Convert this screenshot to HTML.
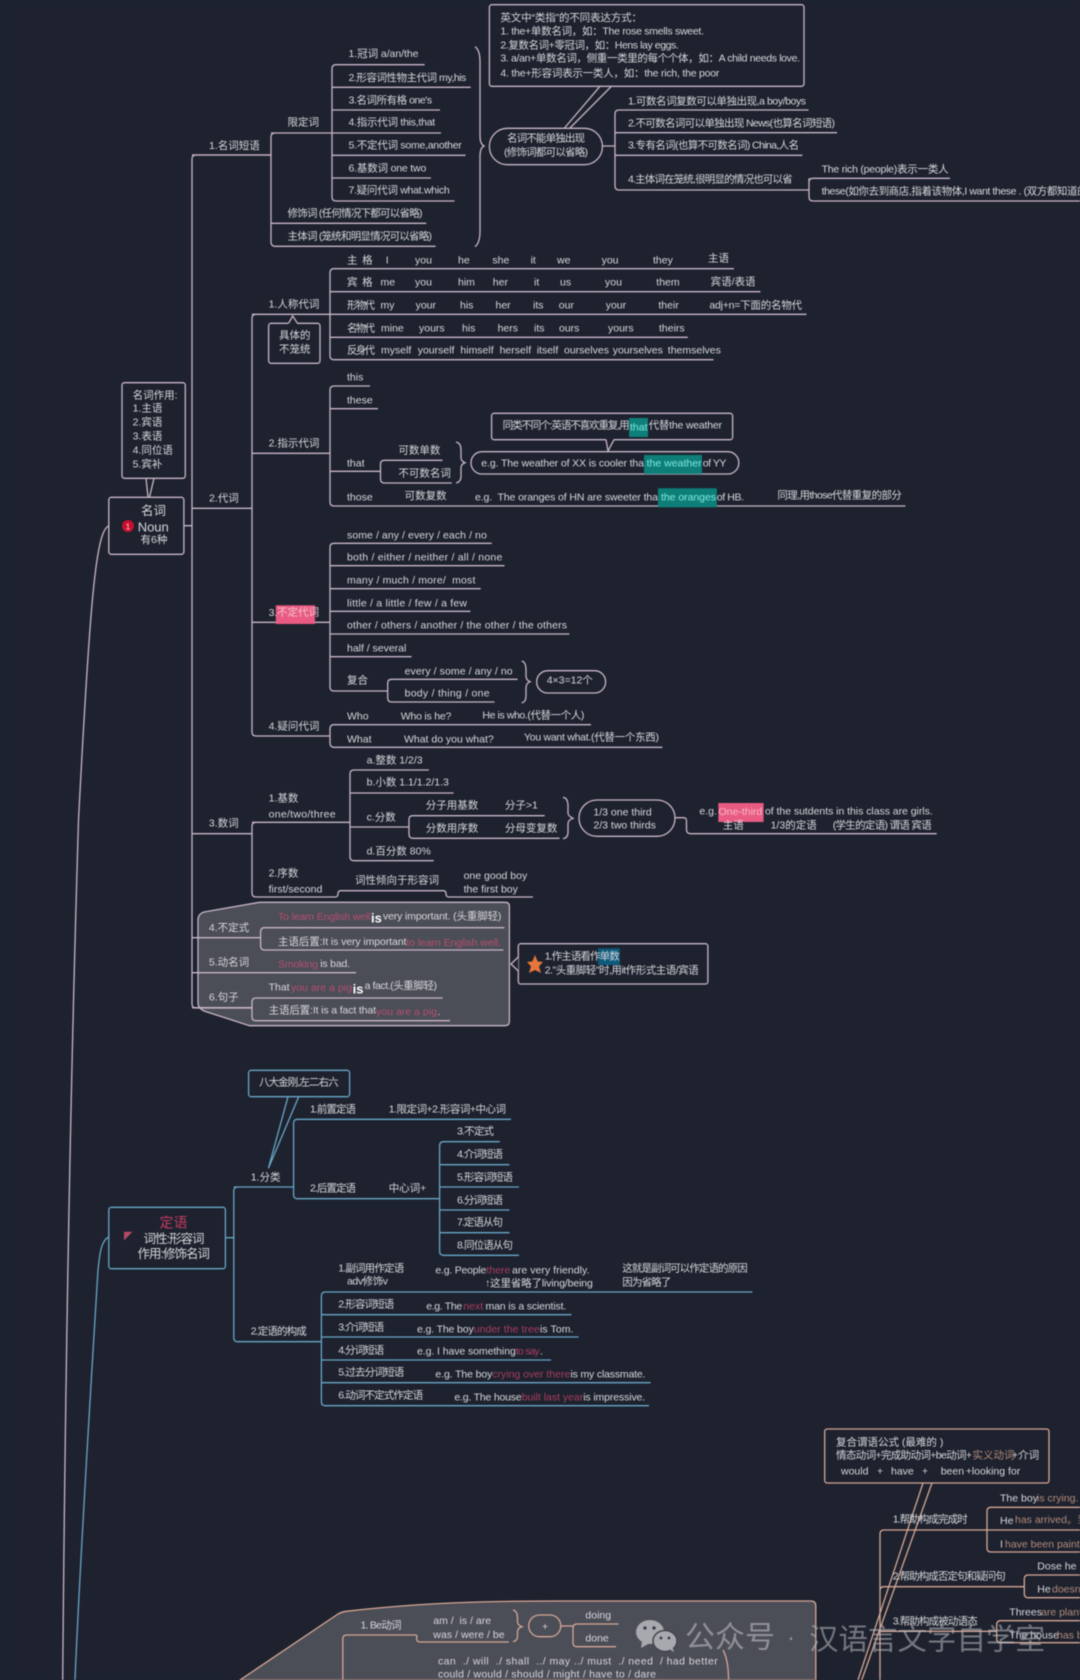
<!DOCTYPE html>
<html lang="zh"><head><meta charset="utf-8"><title>英语语法思维导图</title>
<style>
html,body{margin:0;padding:0;background:#1d222e;width:1080px;height:1680px;overflow:hidden}
svg{display:block;filter:blur(.4px)}
text{font-family:"Liberation Sans","Noto Sans CJK SC",sans-serif;font-size:10.5px;fill:#d8d8dc;dominant-baseline:central;white-space:pre;transform:translateY(1px)}
.l{fill:none;stroke:#c9b5c8;stroke-width:1.3}
.b{fill:none;stroke:#6aa5c8;stroke-width:1.3}
.s{fill:none;stroke:#d6a795;stroke-width:1.3}
.box{fill:#1d222e}
.r{fill:#b5506f}
.r2{fill:#a83d60}
.o{fill:#b48a7c}
.c{fill:#7fe8e0}
.w{font-weight:bold;font-size:13px;fill:#fff}
</style></head><body>
<svg width="1080" height="1680" viewBox="0 0 1080 1680" xmlns="http://www.w3.org/2000/svg">
<rect width="1080" height="1680" fill="#1d222e"/>

<!-- long curves -->
<path class="l" d="M108.8 526C96 530 90 600 78.5 820C70 1100 65 1400 62.7 1680"/>
<path class="b" d="M108.8 1237C102 1240 100 1250 98 1270C90 1400 80 1560 75 1680"/>

<!-- gray panels -->
<path d="M259.6 902.3H505Q509.4 902.3 509.4 906V1021Q509.4 1025.7 505 1025.7H249.6L204 1011Q198 1008 198 1003V920Q198 914 204 912Z" fill="#4b4d57" stroke="#c9b5c8" stroke-width="1.3"/>
<path d="M240 1680L338 1614Q342 1611.7 346 1611.3C420 1603 480 1601 560 1601H811Q815.8 1601 815.8 1606V1680Z" fill="#4b4d57" stroke="#d6a795" stroke-width="1.3"/>

<!-- PINK connectors -->
<path class="l" d="M196 155Q192 155 192 159V1004Q192 1008 196 1008H252M192 155H271M184 525.7H192"/>
<path class="l" d="M275 133Q271 133 271 137V242Q271 246.3 275 246.3H435.6M271 155H192M271 133H441M271 223.3H426.3"/>
<path class="l" d="M424.6 64.7H336Q332 64.7 332 69V197Q332 201 336 201H454.5M332 87.3H470.7M332 110H440M332 155.3H465.5M332 178H431"/>
<path class="l" d="M475 46.7Q480 50 480 62V136Q480 144 484 146Q480 148 480 156V231Q480 243 475 246.7"/>
<path class="l" d="M602.4 146H615M808.6 110H619Q615 110 615 114V186Q615 190 619 190H809M615 132.7H837M615 155.3H802.4"/>
<path class="l" d="M950 178.3H813Q809 178.3 809 182V197Q809 201 813 201H1080M809 178.3V190"/>
<!-- 代词 -->
<path class="l" d="M192 508.3H252M256 314.3Q252 314.3 252 318V732Q252 736 256 736H330M252 314.3H330M252 453.3H330M252 622.3H330"/>
<path class="l" d="M733.9 268.7H334Q330 268.7 330 273V355.7Q330 359.7 334 359.7H713.5M330 291.7H760.4M330 314.3H806.5M330 337.3H687.8"/>
<path class="l" d="M370 386H334Q330 386 330 390V502Q330 506 334 506H905.5M330 408.7H378M330 471.3H380.5"/>
<path class="l" d="M442.5 460.3H384.5Q380.5 460.3 380.5 464V479Q380.5 483 384.5 483H451.8"/>
<path class="l" d="M456 442Q461 443 461 450V458Q461 461 465 462.7Q461 464 461 468V476Q461 482 456 483"/>
<path class="l" d="M491.7 543.3H334Q330 543.3 330 547V687Q330 691 334 691H387.7M330 565.7H504.5M330 588.7H480.7M330 611.3H470.4M330 634H569.4M330 656.7H411.5"/>
<path class="l" d="M517.6 679.3H391.7Q387.7 679.3 387.7 683V698Q387.7 702 391.7 702H494.5"/>
<path class="l" d="M521.7 661Q526 662 526 670V676Q526 680 530 681.7Q526 683 526 688V696Q526 702 521.7 703"/>
<path class="l" d="M591 724.7H334Q330 724.7 330 729V743Q330 747.3 334 747.3H662.4"/>
<!-- 数词 -->
<path class="l" d="M192 833.7H252M256 822.3Q252 822.3 252 826V893Q252 897 256 897H335Q338 897 338 894V893.7Q338 890.7 341 890.7H443Q446 890.7 446 893.7V894Q446 897 449 897H533M252 822.3H350"/>
<path class="l" d="M428.8 770H354Q350 770 350 774V856.7Q350 860.7 354 860.7H433.7M350 793H453.6M350 827H409"/>
<path class="l" d="M544.7 815.7H413Q409 815.7 409 819V834.3Q409 838.3 413 838.3H559.6"/>
<path class="l" d="M563 797.3Q568 798 568 806V813Q568 816 573 818.3Q568 820 568 824V832Q568 838 563 838.7"/>
<path class="l" d="M675 817.7H683.5Q686.5 817.7 686.5 821V829.7Q686.5 833.7 691 833.7H936.7"/>
<!-- 不定式等 -->
<path class="l" d="M192 937.7H260.6M504.4 927.7H264.6Q260.6 927.7 260.6 932V946Q260.6 950 264.6 950H503.4"/>
<path class="l" d="M192 972.7H356M192 1007.7H252"/>
<path class="l" d="M442.7 998H256Q252 998 252 1002V1016.7Q252 1020.7 256 1020.7H450"/>

<!-- PINK boxes -->
<rect x="489.4" y="4.7" width="314.6" height="81.6" rx="2.5" class="l box"/>
<path class="l" d="M600 86.3L564.5 128M611.4 86.3L570 128"/>
<rect x="489.4" y="128.3" width="113" height="36.4" rx="18" class="l box"/>
<rect x="268.6" y="323.3" width="51.4" height="40" rx="2.5" class="l box"/>
<path class="box" d="M288 324L292.7 316L297.5 324Z" stroke="none"/>
<path class="l" d="M288.5 323.3L292.7 316L297.5 323.3"/>
<rect x="122" y="382.7" width="63.3" height="95.6" rx="2.5" class="l box"/>
<rect x="108.8" y="497.3" width="75.1" height="57" rx="2.5" class="l box"/>
<path class="l" d="M146 478.3L148 497M154 478.3L149.5 497"/>
<rect x="491.6" y="413.3" width="241" height="26.4" rx="2.5" class="l box"/>
<path class="box" d="M606 439L608 451L614 439Z" stroke="none"/>
<path class="l" d="M606 439.7L608 451L614 439.7"/>
<rect x="471" y="451.7" width="267.8" height="22.3" rx="11" class="l box"/>
<rect x="536.7" y="670.7" width="68.9" height="22.3" rx="11" class="l box"/>
<rect x="579" y="800" width="96" height="36.3" rx="18" class="l box"/>
<rect x="518.3" y="943.7" width="189.6" height="40.3" rx="2.5" class="l box"/>
<path class="l box" d="M518.3 957L511 964L518.3 971" style="stroke-linejoin:round"/>

<!-- highlights -->
<rect x="629" y="418" width="19" height="19" fill="#0d7f78"/>
<rect x="644" y="455" width="58" height="19" fill="#0d7f78"/>
<rect x="658" y="488.3" width="58.8" height="19" fill="#0d7f78"/>
<rect x="275.8" y="605.3" width="39.2" height="18.7" fill="#e95b82"/>
<rect x="718.3" y="803" width="45.3" height="19" fill="#e95b82"/>
<rect x="598" y="948.3" width="21.8" height="16.7" fill="#0d5a7c"/>

<!-- 名词 top -->
<text x="209" y="145">1.名词短语</text>
<text x="287.5" y="121.7">限定词</text>
<text x="348.5" y="53" textLength="70">1.冠词 a/an/the</text>
<text x="348.5" y="77" textLength="117.8">2.形容词性物主代词 my,his</text>
<text x="348.5" y="99.5" textLength="83.6">3.名词所有格 one's</text>
<text x="348.5" y="121.7" textLength="86.7">4.指示代词 this,that</text>
<text x="348.5" y="144.3" textLength="113.3">5.不定代词 some,another</text>
<text x="348.5" y="167.3" textLength="77.8">6.基数词 one two</text>
<text x="348.5" y="189.3" textLength="101.2">7.疑问代词 what.which</text>
<text x="287.5" y="212.7" textLength="135">修饰词 (任何情况下都可以省略)</text>
<text x="287.5" y="235.7" textLength="144.5">主体词 (笼统和明显情况可以省略)</text>

<text x="500.4" y="17" textLength="141.6">英文中“类指”的不同表达方式：</text>
<text x="500.4" y="30.7" textLength="203.6">1. the+单数名词，如：The rose smells sweet.</text>
<text x="500.4" y="44.7" textLength="178.4">2.复数名词+零冠词，如：Hens lay eggs.</text>
<text x="500.4" y="57.7" textLength="299.6">3. a/an+单数名词，侧重一类里的每个个体，如：A child needs love.</text>
<text x="500.4" y="72.3" textLength="219">4. the+形容词表示一类人，如：the rich, the poor</text>
<text x="507" y="137.7" textLength="78">名词不能单独出现</text>
<text x="504" y="151.7" textLength="84">(修饰词都可以省略)</text>
<text x="628" y="100.7" textLength="178">1.可数名词复数可以单独出现,a boy/boys</text>
<text x="628" y="122.7" textLength="207">2.不可数名词可以单独出现 News(也算名词短语)</text>
<text x="628" y="144.7" textLength="171">3.专有名词(也算不可数名词) China,人名</text>
<text x="628" y="178.7" textLength="164.6">4.主体词在笼统,很明显的情况也可以省</text>
<text x="821.6" y="168.7" textLength="127">The rich (people)表示一类人</text>
<text x="821.6" y="190.7" textLength="266">these(如你去到商店,指着该物体,I want these . (双方都知道的</text>

<!-- pronoun table -->
<text x="347" y="259.3" textLength="25.6">主 格</text><text x="385.7" y="259.3">I</text><text x="415" y="259.3">you</text><text x="458" y="259.3">he</text><text x="492.4" y="259.3">she</text><text x="530.6" y="259.3">it</text><text x="557" y="259.3">we</text><text x="601.6" y="259.3">you</text><text x="653" y="259.3">they</text><text x="708" y="257.7">主语</text>
<text x="347" y="281.7" textLength="25.6">宾 格</text><text x="380.5" y="281.7">me</text><text x="415" y="281.7">you</text><text x="458" y="281.7">him</text><text x="492.8" y="281.7">her</text><text x="534" y="281.7">it</text><text x="560" y="281.7">us</text><text x="605" y="281.7">you</text><text x="656.3" y="281.7">them</text><text x="710.6" y="281">宾语/表语</text>
<text x="347" y="304.7" textLength="28">形物代</text><text x="380.5" y="304.7">my</text><text x="415.6" y="304.7">your</text><text x="460" y="304.7">his</text><text x="495.5" y="304.7">her</text><text x="533" y="304.7">its</text><text x="558.8" y="304.7">our</text><text x="605.7" y="304.7">your</text><text x="658.4" y="304.7">their</text><text x="709.4" y="304.7" textLength="92.6">adj+n=下面的名物代</text>
<text x="347" y="327.3" textLength="28">名物代</text><text x="381" y="327.3">mine</text><text x="419" y="327.3">yours</text><text x="462" y="327.3">his</text><text x="497.6" y="327.3">hers</text><text x="534" y="327.3">its</text><text x="559" y="327.3">ours</text><text x="608" y="327.3">yours</text><text x="659" y="327.3">theirs</text>
<text x="347" y="349.3" textLength="28">反身代</text><text x="381" y="349.3">myself</text><text x="417.7" y="349.3">yourself</text><text x="460.4" y="349.3">himself</text><text x="499.6" y="349.3">herself</text><text x="536.7" y="349.3">itself</text><text x="564" y="349.3">ourselves</text><text x="612.7" y="349.3">yourselves</text><text x="667.8" y="349.3">themselves</text>

<text x="209" y="497.3">2.代词</text>
<text x="268.6" y="303.7">1.人称代词</text>
<text x="279" y="334.7">具体的</text>
<text x="279" y="348.7">不笼统</text>

<!-- left boxes -->
<text x="132.6" y="394.7">名词作用:</text>
<text x="132.6" y="407.7">1.主语</text>
<text x="132.6" y="421.3">2.宾语</text>
<text x="132.6" y="435.3">3.表语</text>
<text x="132.6" y="449.7">4.同位语</text>
<text x="132.6" y="463.7">5.宾补</text>
<text x="141" y="510" style="font-size:12.5px">名词</text>
<text x="137.7" y="526" style="font-size:13px">Noun</text>
<text x="140.5" y="539">有6种</text>
<circle cx="128" cy="526" r="6" fill="#c8102e"/>
<text x="125.7" y="526" style="font-size:8px;fill:#ffd8d8">1</text>

<!-- 指示代词 -->
<text x="268.6" y="442.7">2.指示代词</text>
<text x="347" y="376.3">this</text>
<text x="347" y="399.3">these</text>
<text x="347" y="462.3">that</text>
<text x="347" y="496.3">those</text>
<text x="398.4" y="449.7">可数单数</text>
<text x="398.4" y="472.7">不可数名词</text>
<text x="404.6" y="495">可数复数</text>
<text x="502.6" y="424.3" textLength="127">同类不同个:英语不喜欢重复,用</text>
<text x="630" y="426.7" class="c">that</text>
<text x="648.6" y="424.3" textLength="73.4">代替the weather</text>
<text x="481.3" y="462.3" textLength="162.7">e.g. The weather of XX is cooler tha</text>
<text x="646.6" y="462.3" class="c" textLength="55">the weather</text>
<text x="702.7" y="462.3" textLength="23.7">of YY</text>
<text x="475" y="496.3" textLength="183">e.g.  The oranges of HN are sweeter tha</text>
<text x="661" y="496.3" class="c" textLength="55">the oranges</text>
<text x="716.8" y="496.3" textLength="27.2">of HB.</text>
<text x="777.4" y="494.7" textLength="124.3">同理,用those代替重复的部分</text>

<!-- 不定代词 -->
<text x="268.6" y="612">3.</text>
<text x="277" y="611.7" style="fill:#f3c3cf">不定代词</text>
<text x="347" y="534.7" textLength="139.8">some / any / every / each / no</text>
<text x="347" y="556.7" textLength="155.3">both / either / neither / all / none</text>
<text x="347" y="579.7" textLength="128.4">many / much / more/  most</text>
<text x="347" y="602.3" textLength="120">little / a little / few / a few</text>
<text x="347" y="624.3" textLength="220">other / others / another / the other / the others</text>
<text x="347" y="647.3" textLength="59.3">half / several</text>
<text x="347" y="679.3">复合</text>
<text x="404.6" y="670.7" textLength="108">every / some / any / no</text>
<text x="404.6" y="692.7" textLength="85">body / thing / one</text>
<text x="546.7" y="679.3">4×3=12个</text>

<!-- 疑问代词 -->
<text x="268.6" y="725.7">4.疑问代词</text>
<text x="347" y="715.3">Who</text>
<text x="400.8" y="715.3" textLength="50.5">Who is he?</text>
<text x="482.4" y="714.3" textLength="102">He is who.(代替一个人)</text>
<text x="347" y="738.3">What</text>
<text x="404" y="738.3" textLength="89.7">What do you what?</text>
<text x="524" y="736.7" textLength="135">You want what.(代替一个东西)</text>

<!-- 数词 -->
<text x="208.9" y="822.7">3.数词</text>
<text x="268.6" y="797.7">1.基数</text>
<text x="268.6" y="813.7" textLength="67">one/two/three</text>
<text x="366.6" y="759.7">a.整数 1/2/3</text>
<text x="366.6" y="781.7">b.小数 1.1/1.2/1.3</text>
<text x="366.6" y="816.7">c.分数</text>
<text x="425.8" y="804.7">分子用基数</text>
<text x="504.9" y="804.7">分子&gt;1</text>
<text x="425.8" y="827.7">分数用序数</text>
<text x="504.9" y="827.7">分母变复数</text>
<text x="366.6" y="850.7">d.百分数 80%</text>
<text x="593.4" y="811.7">1/3 one third</text>
<text x="593.4" y="824.3">2/3 two thirds</text>
<text x="699.4" y="810.7">e.g.</text>
<text x="718.5" y="811" style="fill:#f6b8c8">One-third</text>
<text x="765" y="810.7" textLength="167.7">of the sutdents in this class are girls.</text>
<text x="722.8" y="824.3">主语</text>
<text x="770.6" y="824.3">1/3的定语</text>
<text x="832.7" y="824.3" textLength="99">(学生的定语) 谓语 宾语</text>
<text x="268.6" y="872.7">2.序数</text>
<text x="268.6" y="888.3">first/second</text>
<text x="355" y="879.7">词性倾向于形容词</text>
<text x="463.6" y="875">one good boy</text>
<text x="463.6" y="888.7">the first boy</text>

<!-- 不定式 panel -->
<text x="208.9" y="927">4.不定式</text>
<text x="278" y="916" class="r" textLength="92.5">To learn English well</text>
<text x="371" y="917" class="w">is</text>
<text x="383" y="915.7" textLength="118.4">very important. (头重脚轻)</text>
<text x="278" y="941" textLength="128.4">主语后置:It is very important</text>
<text x="406.4" y="942" class="r" textLength="94.6">to learn English well.</text>
<text x="208.9" y="961.7">5.动名词</text>
<text x="278" y="963.3" class="r" textLength="40">Smoking</text>
<text x="320.3" y="963" textLength="29.7">is bad.</text>
<text x="208.9" y="996.7">6.句子</text>
<text x="268.6" y="986.7">That</text>
<text x="291" y="987" class="r" textLength="61">you are a pig</text>
<text x="352.6" y="988" class="w">is</text>
<text x="364.6" y="985" textLength="72.4">a fact.(头重脚轻)</text>
<text x="268.6" y="1009.5" textLength="107.4">主语后置:It is a fact that</text>
<text x="376" y="1011" class="r" textLength="61">you are a pig</text>
<text x="437.5" y="1011">.</text>
<polygon points="535,955 537.6,961.4 543,962 539,966.4 541,973 535,970 529,973 531,966.4 527,962 532.4,961.4" fill="#e8763c"/>
<text x="544.7" y="955.7" textLength="75">1.作主语看作单数</text>
<text x="544.7" y="969.7" textLength="154">2."头重脚轻"时,用it作形式主语/宾语</text>

<!-- BLUE: 定语 -->
<path class="b" d="M225.4 1237.7H233.8M237.8 1187Q233.8 1187 233.8 1191V1337.7Q233.8 1341.7 237.8 1341.7H321.4M233.8 1187H293.6"/>
<path class="b" d="M511 1119.3H297.6Q293.6 1119.3 293.6 1123V1194.7Q293.6 1198.7 297.6 1198.7H439.6"/>
<path class="b" d="M499.8 1141.7H443.6Q439.6 1141.7 439.6 1146V1251.3Q439.6 1255.3 443.6 1255.3H519M439.6 1164.7H509.5M439.6 1187H519M439.6 1210H509.5M439.6 1232.7H509.5"/>
<path class="b" d="M752.4 1292H325.4Q321.4 1292 321.4 1296V1401.7Q321.4 1405.7 325.4 1405.7H649M321.4 1314.7H571.4M321.4 1337H578.5M321.4 1360H551M321.4 1382.7H650.5"/>
<path class="b" d="M288 1096.7L268.4 1168.3L298.7 1096.7"/>
<rect x="248.6" y="1070.3" width="101" height="26.4" rx="2.5" class="b box"/>
<rect x="108.8" y="1207.3" width="116.6" height="61.4" rx="2.5" class="b box"/>
<text x="259" y="1081.7" textLength="79.6">八大金刚,左二右六</text>
<text x="159.5" y="1221.3" style="font-size:14px;fill:#c33b62">定语</text>
<polygon points="124,1231.7 132.5,1231.7 124,1240.5" fill="#b24a66"/>
<text x="143.5" y="1238" style="font-size:12.5px" textLength="61">词性:形容词</text>
<text x="137.5" y="1253" style="font-size:12.5px" textLength="72.5">作用:修饰名词</text>
<text x="250.7" y="1176.7">1.分类</text>
<text x="310" y="1108.7" textLength="46">1.前置定语</text>
<text x="388.7" y="1108.7" textLength="117.3">1.限定词+2.形容词+中心词</text>
<text x="310" y="1187.7" textLength="46">2.后置定语</text>
<text x="388.7" y="1187.7">中心词+</text>
<text x="457" y="1130.7" textLength="37">3.不定式</text>
<text x="457" y="1153.7" textLength="46">4.介词短语</text>
<text x="457" y="1176.7" textLength="56">5.形容词短语</text>
<text x="457" y="1199.7" textLength="46">6.分词短语</text>
<text x="457" y="1221.7" textLength="46">7.定语从句</text>
<text x="457" y="1244.7" textLength="56">8.同位语从句</text>
<text x="250.7" y="1330.7" textLength="56">2.定语的构成</text>
<text x="338.2" y="1267.7" textLength="66">1.副词用作定语</text>
<text x="347" y="1280.7" textLength="41">adv修饰v</text>
<text x="435.4" y="1269.7" textLength="51">e.g. People</text>
<text x="486.4" y="1269.7" class="r2" textLength="24">there</text>
<text x="512" y="1269.7" textLength="77.5">are very friendly.</text>
<text x="485" y="1282.3" textLength="107.8">↑这里省略了living/being</text>
<text x="622.3" y="1267.7" textLength="125.4">这就是副词可以作定语的原因</text>
<text x="622.3" y="1281.7" textLength="49">因为省略了</text>
<text x="338.2" y="1303.7" textLength="56">2.形容词短语</text>
<text x="426.2" y="1305.7" textLength="36">e.g. The</text>
<text x="463.2" y="1305.7" class="r2" textLength="20">next</text>
<text x="485.5" y="1305.7" textLength="80.8">man is a scientist.</text>
<text x="338.2" y="1326.7" textLength="46">3.介词短语</text>
<text x="417" y="1328.7" textLength="56.7">e.g. The boy</text>
<text x="473.7" y="1328.7" class="r2" textLength="66">under the tree</text>
<text x="540" y="1328.7" textLength="33.5">is Tom.</text>
<text x="338.2" y="1349.7" textLength="46">4.分词短语</text>
<text x="417" y="1350.7" textLength="98.8">e.g. I have something</text>
<text x="515.8" y="1350.7" class="r2" textLength="24">to say</text>
<text x="540" y="1350.7">.</text>
<text x="338.2" y="1371.7" textLength="66">5.过去分词短语</text>
<text x="435.4" y="1373.7" textLength="57">e.g. The boy</text>
<text x="492.3" y="1373.7" class="r2" textLength="78">crying over there</text>
<text x="570.5" y="1373.7" textLength="75">is my classmate.</text>
<text x="338.2" y="1394.7" textLength="85">6.动词不定式作定语</text>
<text x="454.4" y="1396.3" textLength="67.3">e.g. The house</text>
<text x="521.7" y="1396.3" class="r2" textLength="61.5">built last year</text>
<text x="583.2" y="1396.3" textLength="62">is impressive.</text>

<!-- SALMON: bottom right -->
<path class="s" d="M923 1483L858 1680M932 1483L861.7 1680"/>
<rect x="824.7" y="1429" width="224.3" height="54" rx="2.5" class="s box"/>
<path class="s" d="M1080 1530H884Q880 1530 880 1534V1680M880 1590.7Q880 1586.7 884 1586.7H1024.3M880 1631.3H996.7"/>
<path class="s" d="M1080 1507.3H991Q987 1507.3 987 1511V1548Q987 1552 991 1552H1080"/>
<path class="s" d="M1080 1575H1028.3Q1024.3 1575 1024.3 1579V1593.7Q1024.3 1597.7 1028.3 1597.7H1080"/>
<path class="s" d="M1080 1620.7H1000.7Q996.7 1620.7 996.7 1625V1638.7Q996.7 1642.7 1000.7 1642.7H1080"/>
<text x="836" y="1441.7">复合谓语公式 (最难的 )</text>
<text x="836" y="1454.3" textLength="136">情态动词+完成助动词+be动词+</text>
<text x="972.5" y="1454.3" class="o">实义动词</text>
<text x="1012" y="1454.3">+介词</text>
<text x="841" y="1470.3">would</text><text x="877" y="1470.3">+</text><text x="891" y="1470.3">have</text><text x="922" y="1470.3">+</text><text x="940.7" y="1470.3">been</text><text x="965.7" y="1470.3">+looking for</text>
<text x="892.7" y="1518.7" textLength="75">1.帮助构成完成时</text>
<text x="1000" y="1497.3">The boy</text><text x="1037" y="1497.3" class="o">is crying.</text>
<text x="1000" y="1520">He</text><text x="1015" y="1519" class="o">has arrived。到</text>
<text x="1000" y="1543.3">I</text><text x="1005" y="1543.3" class="o">have been painting</text>
<text x="892.7" y="1575.7" textLength="113">2.帮助构成否定句和疑问句</text>
<text x="1037.3" y="1565.3">Dose he like</text>
<text x="1037.3" y="1588.3">He</text><text x="1052" y="1588.3" class="o">doesn't</text>
<text x="892.7" y="1620.7" textLength="85">3.帮助构成被动语态</text>
<text x="1009.3" y="1611.7">Threes</text><text x="1041" y="1611.7" class="o">are planted</text>
<text x="1009.3" y="1634.3">The house</text><text x="1057" y="1634.3" class="o">has been</text>

<!-- 动词 panel -->
<path class="s" d="M416.7 1635H346.8Q342.8 1635 342.8 1639V1680M416.7 1635V1639Q416.7 1642 420 1642H508.8"/>
<path class="s" d="M513 1610Q517.5 1611 517.5 1618V1622Q517.5 1625 522 1626.7Q517.5 1628 517.5 1632V1636Q517.5 1641 513 1641.7"/>
<rect x="528.7" y="1615" width="32.1" height="21.7" rx="10.8" class="s"/>
<path class="s" d="M560.8 1626H573M618.6 1624H577Q573 1624 573 1628V1642.7Q573 1646.7 577 1646.7H616"/>
<path class="s" d="M723 1650Q728.5 1660 728.5 1680"/>
<text x="360.5" y="1624.3" textLength="41">1. Be动词</text>
<text x="433.3" y="1620">am /  is / are</text>
<text x="433.3" y="1634" textLength="71.3">was / were / be</text>
<text x="542" y="1626">+</text>
<text x="585.4" y="1614.7">doing</text>
<text x="585.4" y="1637.7">done</text>
<text x="438" y="1660.7" textLength="279.7">can  ./ will  ./ shall  ../ may ../ must  ./ need  / had better</text>
<text x="438" y="1673.3" textLength="218">could / would / should / might / have to / dare</text>

<!-- watermark -->
<g fill="#c8c8cb" opacity=".75">
<ellipse cx="650" cy="1632" rx="14" ry="12"/>
<path d="M642 1641L641 1648L650 1643Z"/>
<ellipse cx="665" cy="1641" rx="12" ry="10.5" stroke="#3f424c" stroke-width="1.5"/>
<path d="M669 1649L674 1652L672 1646Z"/>
</g>
<g fill="#33363f"><circle cx="645" cy="1628" r="1.6"/><circle cx="654" cy="1628" r="1.6"/><circle cx="661" cy="1638" r="1.4"/><circle cx="669" cy="1638" r="1.4"/></g>
<text x="685" y="1637" style="font-size:30px;fill:rgba(190,190,194,.6)">公众号</text>
<text x="787" y="1637" style="font-size:24px;fill:rgba(190,190,194,.6)">·</text>
<text x="809" y="1639" style="font-size:29.5px;fill:rgba(190,190,194,.55)">汉语言文字自学室</text>
</svg>
</body></html>
